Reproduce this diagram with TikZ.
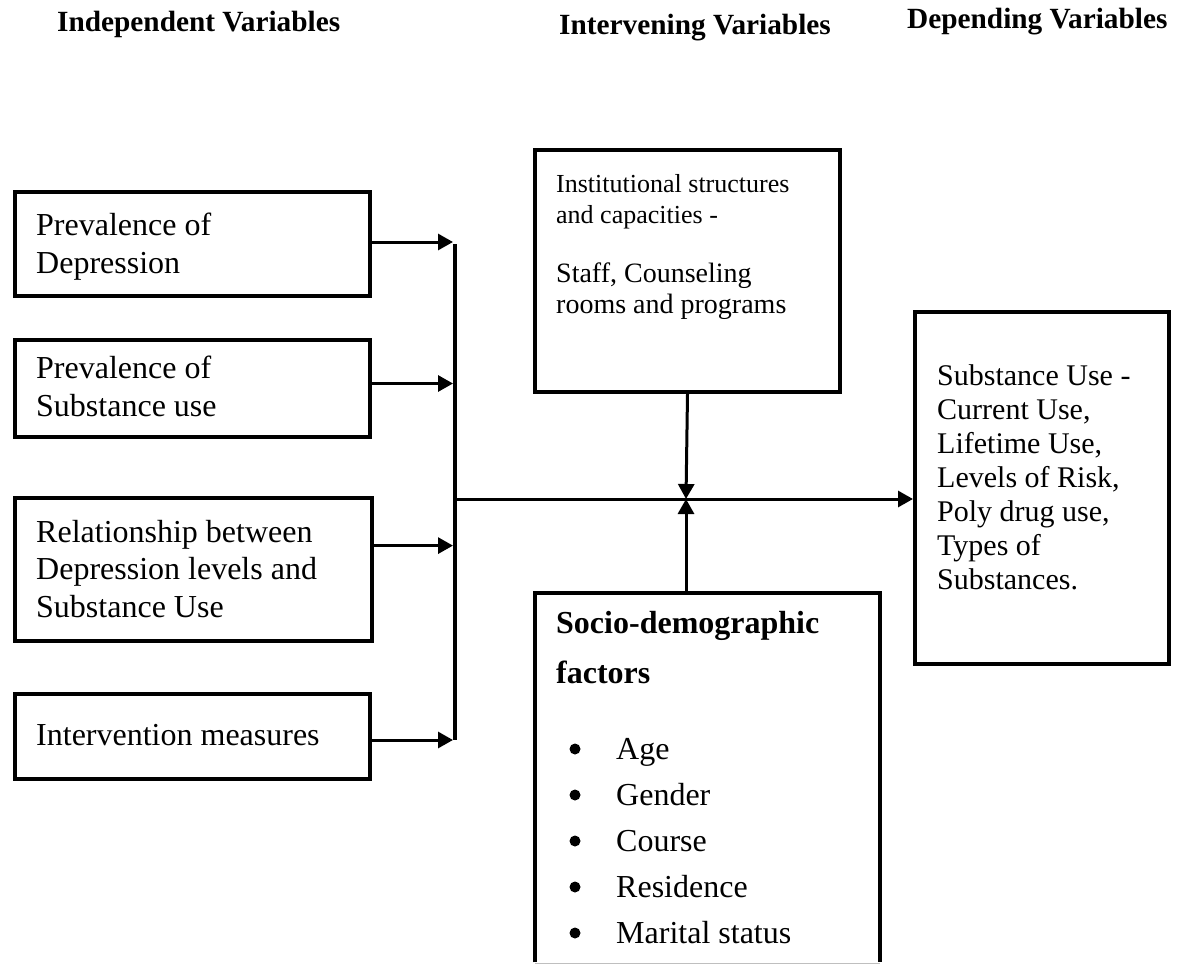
\documentclass[tikz,border=0pt]{standalone}
\usepackage{fontspec}
\setmainfont{Liberation Serif}
\usetikzlibrary{arrows.meta,calc}
\begin{document}
\begin{tikzpicture}[x=1pt,y=-1pt,
  every node/.style={font=\fontsize{32}{37.5}\selectfont},
  box/.style={draw,line width=4pt,anchor=north west,inner sep=0pt},
  txt/.style={anchor=base west,inner sep=0pt,align=left},
  head/.style={font=\fontsize{29.3}{32}\selectfont\bfseries,inner sep=0pt,anchor=base west},
  tip/.style={-{Triangle[length=15pt,width=16pt]}},
  arr/.style={line width=3pt,tip},
  bullet/.style={circle,fill,inner sep=0pt,minimum size=11pt},
]
\useasboundingbox (0,0) rectangle (1181,964);
% headers
\node[head] (h1) at (57,31) {Independent Variables};
\node[head] (h2) at (559,34) {Intervening Variables};
\node[head] (h3) at (907,28) {Depending Variables};
% left boxes
\node[box,minimum width=355pt,minimum height=104pt] (b1) at (13,190) {};
\node[box,minimum width=355pt,minimum height=97pt] (b2) at (13,338) {};
\node[box,minimum width=357pt,minimum height=143pt] (b3) at (13,496) {};
\node[box,minimum width=355pt,minimum height=85pt] (b4) at (13,692) {};
% (base anchor = baseline of last line)
\node[txt] (t1) at (36,273) {Prevalence of\\Depression};
\node[txt] (t2) at (36,416) {Prevalence of\\Substance use};
\node[txt] (t3) at (36,617) {Relationship between\\Depression levels and\\Substance Use};
\node[txt] (t4) at (36,745) {Intervention measures};
% bus
\coordinate (bt) at (455,242);
\coordinate (bb) at (455,742);
\coordinate (bm) at (455,499);
\coordinate (j) at (686,499);
\draw[line width=4pt] ([yshift=-2pt]bt) -- ([yshift=2pt]bb);
\coordinate (a1) at (368,242);
\coordinate (a2) at (368,383.5);
\coordinate (a3) at (370,545.6);
\coordinate (a4) at (368,740);
\draw[arr] (a1) -- ([xshift=-2pt]a1 -| bt);
\draw[arr] (a2) -- ([xshift=-2pt]a2 -| bt);
\draw[arr] (a3) -- ([xshift=-2pt]a3 -| bt);
\draw[arr] (a4) -- ([xshift=-2pt]a4 -| bt);
% institutional box
\node[box,minimum width=305pt,minimum height=242pt] (inst) at (533,148) {};
\node[txt,font=\fontsize{26}{31}\selectfont] (insta) at (556,223) {Institutional structures\\and capacities -};
\node[txt,font=\fontsize{28}{31.5}\selectfont] (instb) at (556,313.5) {Staff, Counseling\\rooms and programs};
% dependent box
\node[box,minimum width=254pt,minimum height=352pt] (dep) at (913,310) {};
\node[txt,font=\fontsize{30}{34}\selectfont] (dept) at (937,589) {Substance Use -\\Current Use,\\Lifetime Use,\\Levels of Risk,\\Poly drug use,\\Types of\\Substances.};
% socio box (open bottom)
\node[inner sep=0pt,anchor=north west,minimum width=345pt,minimum height=369pt] (soc) at (535,593) {};
\draw[line width=4pt] (soc.south west) -- (soc.north west) -- (soc.north east) -- (soc.south east);
\draw[line width=1pt,black!25] ([yshift=-1pt]soc.south west) -- ([yshift=-1pt]soc.south east);
\node[txt,font=\fontsize{32}{50}\selectfont\bfseries] (soct) at (556,683) {Socio-demographic\\factors};
\node[txt] (s1) at (616,759) {Age};
\node[txt] (s2) at (616,805) {Gender};
\node[txt] (s3) at (616,851) {Course};
\node[txt] (s4) at (616,897) {Residence};
\node[txt] (s5) at (616,943) {Marital status};
\foreach \n in {1,...,5}{\node[bullet] (bul\n) at ([yshift=10pt]s\n.base -| 575,0) {};}
% connectors
\draw[line width=3pt,tip] (bm) -- (bm -| dep.west);
\draw[arr] (inst.south) -- (j);
\draw[arr] (soc.north -| j) -- (j);
\end{tikzpicture}
\end{document}
